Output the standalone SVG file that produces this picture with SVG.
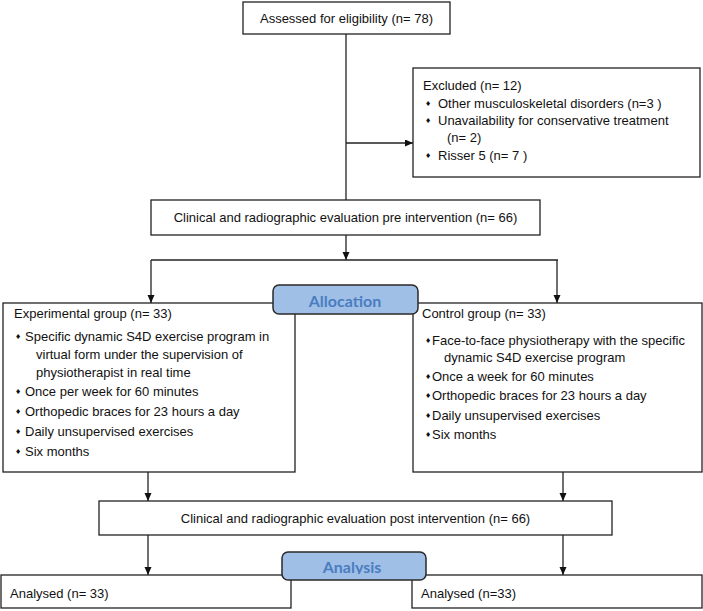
<svg xmlns="http://www.w3.org/2000/svg" width="703" height="611" viewBox="0 0 703 611">
<style>
.box{fill:#fff;stroke:#222;stroke-width:1.3}
.t{font-family:"Liberation Sans",Arial,sans-serif;font-size:13px;fill:#111}
.c{text-anchor:middle}
.b{font-family:"DejaVu Sans",sans-serif;font-size:7px;fill:#111}
.lab{fill:#a0bfe7;stroke:#2a2a2a;stroke-width:1.5}
.lt{font-family:Lato,"Open Sans",sans-serif;font-weight:bold;font-size:16px;fill:#4a7dbf;text-anchor:middle}
.ln{fill:none;stroke:#222;stroke-width:1.3}
</style>
<defs>
<marker id="ah" markerUnits="userSpaceOnUse" markerWidth="9" markerHeight="8" refX="8" refY="3.5" orient="auto">
<path d="M0,0 L8,3.5 L0,7 z" fill="#111"/>
</marker>
<clipPath id="anclip"><rect x="282" y="552" width="144" height="22"/></clipPath>
</defs>

<g id="connectors">
<line class="ln" x1="346" y1="34" x2="346" y2="200"/>
<line class="ln" x1="346" y1="143" x2="413" y2="143" marker-end="url(#ah)"/>
<line class="ln" x1="346" y1="235" x2="346" y2="260" marker-end="url(#ah)"/>
<line class="ln" x1="151" y1="260" x2="558" y2="260"/>
<line class="ln" x1="151" y1="260" x2="151" y2="303" marker-end="url(#ah)"/>
<line class="ln" x1="557" y1="260" x2="557" y2="303" marker-end="url(#ah)"/>
<line class="ln" x1="148" y1="472" x2="148" y2="501" marker-end="url(#ah)"/>
<line class="ln" x1="563" y1="472" x2="563" y2="501" marker-end="url(#ah)"/>
<line class="ln" x1="148" y1="535" x2="148" y2="575" marker-end="url(#ah)"/>
<line class="ln" x1="563" y1="535" x2="563" y2="575" marker-end="url(#ah)"/>
</g>

<g id="assessed">
<rect class="box" x="243" y="2" width="207" height="32"/>
<text class="t c" x="346.5" y="22.5">Assessed for eligibility (n= 78)</text>
</g>

<g id="excluded">
<rect class="box" x="413" y="68" width="287" height="109"/>
<text class="t" x="423" y="89.5">Excluded (n= 12)</text>
<text class="b" x="425" y="106">♦</text>
<text class="t" x="438" y="107.5">Other musculoskeletal disorders (n=3  )</text>
<text class="b" x="425" y="123">♦</text>
<text class="t" x="438" y="124.5">Unavailability for conservative treatment</text>
<text class="t" x="447" y="141.5">(n= 2)</text>
<text class="b" x="425" y="158">♦</text>
<text class="t" x="438" y="159.5">Risser 5 (n= 7 )</text>
</g>

<g id="pre">
<rect class="box" x="151" y="200" width="389" height="35"/>
<text class="t c" x="345.5" y="222">Clinical and radiographic evaluation pre intervention (n= 66)</text>
</g>

<g id="experimental">
<rect class="box" x="3" y="303" width="292" height="169"/>
<text class="t" x="14" y="317.5">Experimental group (n= 33)</text>
<text class="b" x="15" y="339">♦</text>
<text class="t" x="25" y="341">Specific dynamic S4D exercise program in</text>
<text class="t" x="36" y="359">virtual form under the supervision of</text>
<text class="t" x="36" y="377">physiotherapist in real time</text>
<text class="b" x="15" y="394">♦</text>
<text class="t" x="25" y="396">Once per week for 60 minutes</text>
<text class="b" x="15" y="414">♦</text>
<text class="t" x="25" y="416">Orthopedic braces for 23 hours a day</text>
<text class="b" x="15" y="434">♦</text>
<text class="t" x="25" y="436">Daily unsupervised exercises</text>
<text class="b" x="15" y="454">♦</text>
<text class="t" x="25" y="456">Six months</text>
</g>

<g id="control">
<rect class="box" x="413" y="303" width="289" height="169"/>
<text class="t" x="422" y="317.5">Control group (n= 33)</text>
<text class="b" x="425" y="343">♦</text>
<text class="t" x="432" y="345">Face-to-face physiotherapy with the specific</text>
<text class="t" x="444" y="362">dynamic S4D exercise program</text>
<text class="b" x="425" y="379">♦</text>
<text class="t" x="432" y="381">Once a week for 60 minutes</text>
<text class="b" x="425" y="398">♦</text>
<text class="t" x="432" y="400">Orthopedic braces for 23 hours a day</text>
<text class="b" x="425" y="418">♦</text>
<text class="t" x="432" y="420">Daily unsupervised exercises</text>
<text class="b" x="425" y="437">♦</text>
<text class="t" x="432" y="439">Six months</text>
</g>

<g id="allocation">
<rect class="lab" x="273" y="285" width="145" height="29" rx="6"/>
<text class="lt" x="345" y="307">Allocation</text>
</g>

<g id="post">
<rect class="box" x="99" y="501" width="513" height="34"/>
<text class="t c" x="355.5" y="522.5">Clinical and radiographic evaluation post intervention (n= 66)</text>
</g>

<g id="analysed-left">
<rect class="box" x="1" y="575" width="290" height="33"/>
<text class="t" x="10" y="597.5">Analysed (n= 33)</text>
</g>

<g id="analysed-right">
<rect class="box" x="412" y="575" width="290" height="33"/>
<text class="t" x="421" y="597.5">Analysed (n=33)</text>
</g>

<g id="analysis">
<rect class="lab" x="282" y="552" width="144" height="28" rx="6"/>
<text class="lt" x="352" y="573" clip-path="url(#anclip)">Analysis</text>
</g>
</svg>
